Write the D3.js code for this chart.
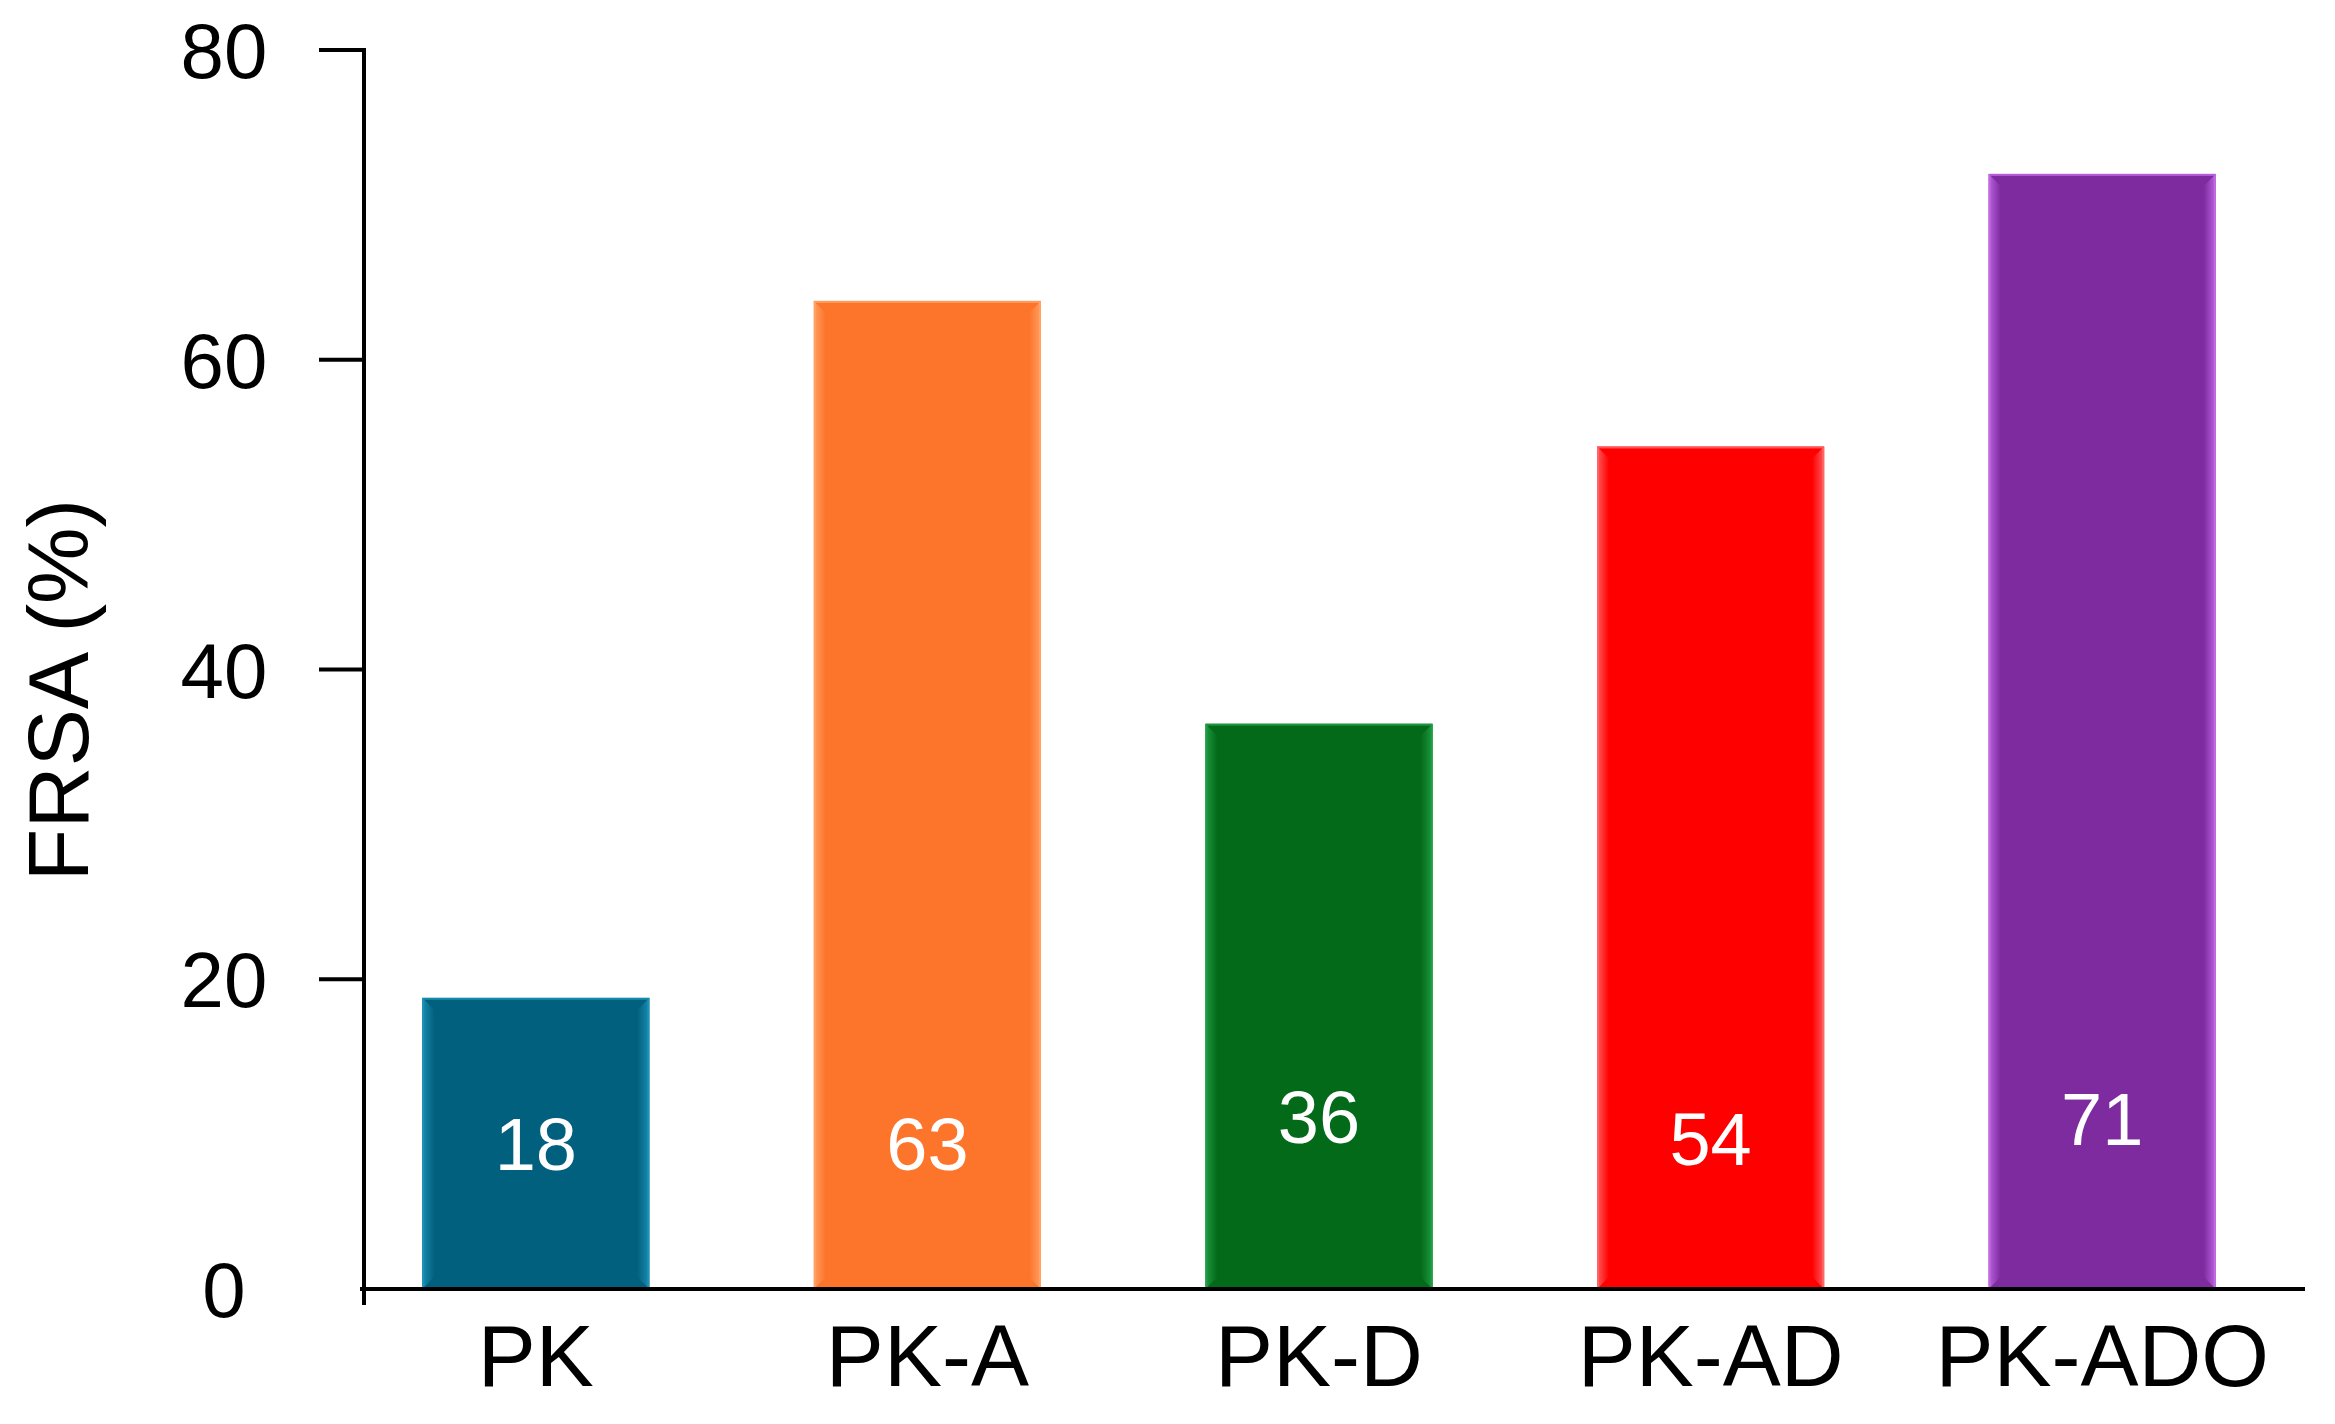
<!DOCTYPE html>
<html>
<head>
<meta charset="utf-8">
<script src="https://cdn.jsdelivr.net/npm/d3@7"></script>
<style>
  html, body { margin: 0; padding: 0; background: #fff; }
  svg { display: block; font-family: "Liberation Sans", Arial, sans-serif; }
</style>
</head>
<body>
<script>
// ---- data ----
const categories = ["PK", "PK-A", "PK-D", "PK-AD", "PK-ADO"];
const values = [18.8, 63.8, 36.5, 54.4, 72.0];          // bar heights
const valueLabels = ["18", "63", "36", "54", "71"];     // printed labels
const labelAt = [7.7, 7.7, 9.4, 8.0, 9.3];               // baseline of each printed label, in axis units
const yTicks = [0, 20, 40, 60, 80];
const barColors = ["#02607f", "#fd742b", "#036a1a", "#ff0000", "#7e2ba0"];
const edgeColors = ["#1b93b8", "#ffa568", "#22a046", "#ff6a6a", "#c46ae8"];
const yTitle = "FRSA (%)";

// ---- layout ----
const W = 2335, H = 1424;
const axisX = 364, axisY0 = 1289, axisYTop = 50, axisXEnd = 2305;

const svg = d3.select("body").append("svg").attr("width", W).attr("height", H);
const defs = svg.append("defs");

const x = d3.scaleBand().domain(categories).range([340, 2298]).paddingInner(0.42).paddingOuter(0.21);
const y = d3.scaleLinear().domain([0, 80]).range([axisY0, axisYTop]);

// gradients for bevel strips
barColors.forEach((c, i) => {
  const gl = defs.append("linearGradient").attr("id", "gl" + i).attr("x1", 0).attr("x2", 1).attr("y1", 0).attr("y2", 0);
  gl.append("stop").attr("offset", "0%").attr("stop-color", edgeColors[i]);
  gl.append("stop").attr("offset", "100%").attr("stop-color", c);
  const gr = defs.append("linearGradient").attr("id", "gr" + i).attr("x1", 0).attr("x2", 1).attr("y1", 0).attr("y2", 0);
  gr.append("stop").attr("offset", "0%").attr("stop-color", c);
  gr.append("stop").attr("offset", "100%").attr("stop-color", edgeColors[i]);
});

const bw = x.bandwidth();
const bev = 12;
const g = svg.append("g");
categories.forEach((cat, i) => {
  const x0 = x(cat), yt = y(values[i]), yb = y(0);
  const bg = g.append("g");
  bg.append("rect").attr("x", x0).attr("y", yt).attr("width", bw).attr("height", yb - yt).attr("fill", barColors[i]);
  // left bevel
  bg.append("path")
    .attr("d", `M${x0},${yt} L${x0 + bev},${yt + bev} L${x0 + bev},${yb - bev} L${x0},${yb} Z`)
    .attr("fill", `url(#gl${i})`).attr("opacity", 0.85);
  // right bevel
  bg.append("path")
    .attr("d", `M${x0 + bw},${yt} L${x0 + bw - bev},${yt + bev} L${x0 + bw - bev},${yb - bev} L${x0 + bw},${yb} Z`)
    .attr("fill", `url(#gr${i})`).attr("opacity", 0.85);
  // outline
  bg.append("rect").attr("x", x0 + 1).attr("y", yt + 1).attr("width", bw - 2).attr("height", yb - yt - 2)
    .attr("fill", "none").attr("stroke", edgeColors[i]).attr("stroke-width", 2).attr("opacity", 0.8);
  // value label
  bg.append("text").attr("x", x0 + bw / 2).attr("y", y(labelAt[i]))
    .attr("text-anchor", "middle").attr("fill", "#fff").attr("font-size", 74)
    .text(valueLabels[i]);
});

// ---- axes ----
const axisG = svg.append("g");
axisG.append("line").attr("x1", axisX).attr("x2", axisX).attr("y1", y(80) - 2).attr("y2", axisY0 + 16)
  .attr("stroke", "#000").attr("stroke-width", 4);
axisG.append("line").attr("x1", axisX - 4).attr("x2", axisXEnd).attr("y1", axisY0).attr("y2", axisY0)
  .attr("stroke", "#000").attr("stroke-width", 4);

yTicks.forEach(t => {
  if (t > 0) {
    axisG.append("line").attr("x1", axisX - 45).attr("x2", axisX).attr("y1", y(t)).attr("y2", y(t))
      .attr("stroke", "#000").attr("stroke-width", 4);
  }
  axisG.append("text").attr("x", 224).attr("y", y(t) + 28)
    .attr("text-anchor", "middle").attr("font-size", 78).attr("fill", "#000").text(t);
});

// x labels
categories.forEach((cat, i) => {
  axisG.append("text").attr("x", x(cat) + bw / 2).attr("y", 1386)
    .attr("text-anchor", "middle").attr("font-size", 87).attr("fill", "#000").text(cat);
});

// y title
svg.append("text").attr("transform", "translate(88,690) rotate(-90)")
  .attr("text-anchor", "middle").attr("font-size", 86).attr("fill", "#000").text(yTitle);
</script>
</body>
</html>
